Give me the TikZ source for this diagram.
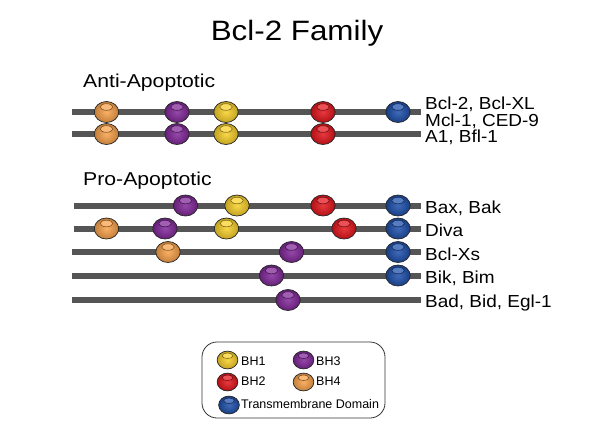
\documentclass[tikz,border=0pt]{standalone}
\usepackage{fontspec}
\setmainfont{Liberation Sans}
\newfontfamily\titlefont[FakeStretch=1.12]{Liberation Sans}
\newfontfamily\groupfont[FakeStretch=1.14]{Liberation Sans}
\newfontfamily\rowfont[FakeStretch=1.09]{Liberation Sans}
\definecolor{bhorange}{HTML}{F9A24A}
\definecolor{bhpurple}{HTML}{82289A}
\definecolor{bhyellow}{HTML}{F8D02A}
\definecolor{bhred}{HTML}{E3161C}
\definecolor{bhblue}{HTML}{1E50AC}
\definecolor{bargray}{HTML}{555555}
\newcommand{\bead}[4][1]{%
  \begin{scope}[shift={(#2,#3)}, scale=#1]
    \shade[inner color=#4!85!white, outer color=#4!78!black, draw=black!85, line width=0.7pt]
      (0,0) ellipse [x radius=12.2, y radius=10.5];
    \filldraw[fill=#4!75!white, draw=#4!45!black, line width=0.5pt]
      (0,-5) ellipse [x radius=6.3, y radius=3.3];
  \end{scope}}
\begin{document}
\begin{tikzpicture}[x=1pt, y=-1pt,
  bar/.style={draw=bargray, line width=6pt},
  rowlabel/.style={anchor=base west, inner sep=0pt, font=\rowfont\fontsize{17.4}{20}\selectfont},
  grouplabel/.style={anchor=base west, inner sep=0pt, font=\groupfont\fontsize{18.6}{22}\selectfont},
  legendlabel/.style={anchor=base west, inner sep=0pt, font=\fontsize{12.5}{14}\selectfont}]
\useasboundingbox (0,0) rectangle (600,437);

% title
\node[anchor=base, inner sep=0pt, font=\titlefont\fontsize{28}{34}\selectfont] (title) at (297,40) {Bcl-2 Family};
\node[grouplabel] (anti) at (83,87) {Anti-Apoptotic};
\node[grouplabel] (pro) at (83,185) {Pro-Apoptotic};

% bar end points
\coordinate (a1s) at (72,112);   \coordinate (a1e) at (421,112);
\coordinate (a2s) at (72,134);   \coordinate (a2e) at (421,134);
\coordinate (p1s) at (74,205.5); \coordinate (p1e) at (421,205.5);
\coordinate (p2s) at (74,228.5); \coordinate (p2e) at (421,228.5);
\coordinate (p3s) at (72,252);   \coordinate (p3e) at (421,252);
\coordinate (p4s) at (72,275.5); \coordinate (p4e) at (421,275.5);
\coordinate (p5s) at (72,300);   \coordinate (p5e) at (421,300);
\foreach \r in {a1,a2,p1,p2,p3,p4,p5} \draw[bar] (\r s) -- (\r e);

% anti-apoptotic beads
\bead{106.5}{112}{bhorange}\bead{177}{112}{bhpurple}\bead{226}{112}{bhyellow}\bead{323}{112}{bhred}\bead{398}{112}{bhblue}
\bead{106.5}{134}{bhorange}\bead{177}{134}{bhpurple}\bead{226}{134}{bhyellow}\bead{323}{134}{bhred}
% pro-apoptotic beads
\bead{185.5}{205.5}{bhpurple}\bead{237}{205.5}{bhyellow}\bead{323}{205.5}{bhred}\bead{398}{205.5}{bhblue}
\bead{106.5}{228.5}{bhorange}\bead{165}{228.5}{bhpurple}\bead{226.5}{228.5}{bhyellow}\bead{344}{228.5}{bhred}\bead{398}{228.5}{bhblue}
\bead{168}{252}{bhorange}\bead{291.5}{252}{bhpurple}\bead{398}{252}{bhblue}
\bead{271.5}{275.5}{bhpurple}\bead{398}{275.5}{bhblue}
\bead{288}{300}{bhpurple}

% row labels
\node[rowlabel] (l1) at (425,109.8) {Bcl-2, Bcl-XL};
\node[rowlabel] (l2) at (425,126.3) {Mcl-1, CED-9};
\node[rowlabel] (l3) at (425,142.8) {A1, Bfl-1};
\node[rowlabel] (l4) at (425,213.5) {Bax, Bak};
\node[rowlabel] (l5) at (425,236.5) {Diva};
\node[rowlabel] (l6) at (425,260) {Bcl-Xs};
\node[rowlabel] (l7) at (425,283.5) {Bik, Bim};
\node[rowlabel] (l8) at (425,307) {Bad, Bid, Egl-1};

% legend
\draw[draw=black!80, line width=0.8pt, rounded corners=15pt] (202,342) rectangle (385,418);
\bead[0.85]{227.5}{360}{bhyellow}
\bead[0.85]{227.5}{382}{bhred}
\bead[0.85]{303.5}{360}{bhpurple}
\bead[0.85]{303.5}{382}{bhorange}
\bead[0.85]{229}{405}{bhblue}
\node[legendlabel] (g1) at (241,365.3) {BH1};
\node[legendlabel] (g2) at (241,385) {BH2};
\node[legendlabel] (g3) at (316,365.3) {BH3};
\node[legendlabel] (g4) at (316,385) {BH4};
\node[legendlabel] (g5) at (241,408) {Transmembrane Domain};
\end{tikzpicture}
\end{document}
